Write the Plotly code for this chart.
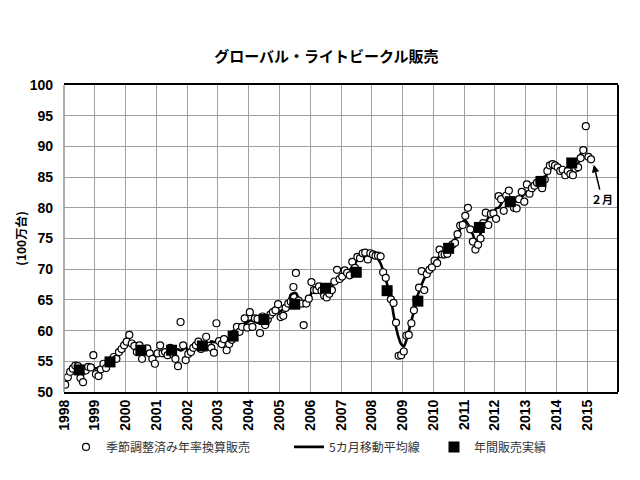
import pandas as pd
import plotly.graph_objects as go

# ---- data (100万台) ----
sa_1998 = [51.2, 52.4, 53.3, 53.8, 54.3, 54.2, 52.3, 51.6, 53.5, 54.1, 54.0, 56.0]
sa_1999 = [52.9, 52.6, 53.7, 54.6, 53.9, 54.8, 55.2, 55.7, 55.4, 56.5, 57.0, 57.6]
sa_2000 = [58.2, 59.3, 57.9, 57.5, 56.5, 57.6, 55.4, 56.8, 57.1, 56.3, 55.4, 54.6]
sa_2001 = [56.3, 57.6, 56.3, 56.5, 56.0, 57.2, 56.2, 55.4, 54.2, 61.4, 57.6, 55.2]
sa_2002 = [56.2, 56.5, 57.2, 57.6, 58.2, 57.0, 57.6, 59.0, 57.5, 57.2, 56.4, 61.2]
sa_2003 = [58.3, 57.8, 58.6, 56.8, 57.8, 58.5, 59.5, 60.6, 59.8, 60.6, 62.0, 60.5]
sa_2004 = [63.0, 60.6, 62.0, 61.9, 59.6, 62.3, 60.9, 61.8, 62.6, 63.0, 63.3, 64.3]
sa_2005 = [62.2, 62.4, 63.7, 64.4, 64.7, 67.1, 69.4, 64.9, 64.4, 60.9, 64.4, 65.2]
sa_2006 = [67.9, 66.6, 66.6, 67.2, 66.5, 65.7, 65.4, 66.0, 66.6, 68.0, 69.9, 68.4]
sa_2007 = [68.8, 69.8, 69.4, 69.0, 71.2, 70.2, 72.0, 71.8, 72.6, 72.7, 71.6, 72.6]
sa_2008 = [72.4, 72.2, 72.2, 72.1, 69.5, 68.6, 66.5, 65.1, 64.5, 61.3, 55.9, 56.0]
sa_2009 = [56.6, 59.2, 59.3, 61.2, 63.3, 65.0, 67.0, 69.7, 66.6, 69.2, 69.9, 70.3]
sa_2010 = [71.4, 71.0, 73.2, 72.4, 72.4, 72.5, 73.5, 74.0, 74.3, 75.7, 77.1, 77.2]
sa_2011 = [78.7, 80.0, 76.5, 74.5, 73.2, 74.0, 75.0, 77.5, 79.2, 77.2, 79.0, 79.1]
sa_2012 = [78.2, 81.9, 81.4, 79.5, 82.0, 82.8, 81.2, 80.0, 79.9, 81.4, 82.6, 81.0]
sa_2013 = [83.8, 82.3, 83.2, 83.6, 84.1, 84.3, 83.2, 84.6, 86.0, 86.9, 87.1, 86.9]
sa_2014 = [86.6, 86.0, 86.2, 85.3, 86.0, 85.5, 85.3, 86.4, 86.6, 88.1, 89.4, 93.3]
sa_2015 = [88.3, 87.9]

annual_years = list(range(1998, 2015))
annual_sales = [53.6, 54.9, 56.8, 56.8, 57.5, 59.1, 61.8, 64.3, 66.9, 69.5,
                66.5, 64.8, 73.4, 76.8, 81.0, 84.3, 87.3]

tick_years = list(range(1998, 2016))

monthly = (sa_1998 + sa_1999 + sa_2000 + sa_2001 + sa_2002 + sa_2003 + sa_2004 +
           sa_2005 + sa_2006 + sa_2007 + sa_2008 + sa_2009 + sa_2010 + sa_2011 +
           sa_2012 + sa_2013 + sa_2014 + sa_2015)
dates = pd.date_range("1998-01-01", periods=len(monthly), freq="MS") + pd.Timedelta(days=14)
s = pd.Series(monthly, index=dates)
ma5 = s.rolling(5, center=True).mean()
annual_dates = [pd.Timestamp(f"{y}-07-01") for y in annual_years]

FONT = "Liberation Sans, Arial, Noto Sans CJK JP"
JFONT = "Noto Sans CJK JP, Liberation Sans"

fig = go.Figure()
fig.add_trace(go.Scatter(
    x=ma5.index, y=ma5.values, mode="lines", name="5カ月移動平均線",
    line=dict(color="black", width=2.6, shape="spline", smoothing=0.6),
    legend="legend2"))
fig.add_trace(go.Scatter(
    x=dates, y=monthly, mode="markers", name="季節調整済み年率換算販売",
    marker=dict(symbol="circle", size=7, color="white",
                line=dict(color="black", width=1.2)),
    legend="legend"))
fig.add_trace(go.Scatter(
    x=annual_dates, y=annual_sales, mode="markers", name="年間販売実績",
    marker=dict(symbol="square", size=11, color="black"),
    legend="legend3"))

leg_common = dict(orientation="h", yref="container", y=0.069, yanchor="middle",
                  xref="container", xanchor="left", bgcolor="rgba(0,0,0,0)",
                  font=dict(family=JFONT, size=12, color="#333333"))
fig.update_layout(
    width=640, height=480,
    margin=dict(l=64, r=22, t=85, b=88, autoexpand=False),
    paper_bgcolor="white", plot_bgcolor="white",
    title=dict(text="グローバル・ライトビークル販売", x=0.51, xanchor="center",
               y=1 - 57 / 480, yanchor="middle",
               font=dict(family=JFONT, size=15, color="black", weight="bold")),
    legend=dict(x=66 / 640, **leg_common),
    legend2=dict(x=289 / 640, **leg_common),
    legend3=dict(x=434 / 640, **leg_common),
    xaxis=dict(
        type="date",
        range=["1998-01-01", "2016-01-01"],
        tickvals=[pd.Timestamp(f"{y}-01-01") for y in tick_years],
        ticktext=[str(y) for y in tick_years],
        tickangle=-90,
        tickfont=dict(family=FONT, size=14, color="black", weight="bold"),
        showgrid=True, gridcolor="#a0a0a0", gridwidth=1,
        showline=True, linecolor="black", linewidth=2, mirror=True,
        ticks="", zeroline=False, automargin=False,
    ),
    yaxis=dict(
        range=[50, 100], dtick=5, tick0=50,
        tickfont=dict(family=FONT, size=14, color="black", weight="bold"),
        showgrid=True, gridcolor="#a0a0a0", gridwidth=1,
        showline=False, ticks="", ticklabelstandoff=10, zeroline=False,
        automargin=False,
        title=dict(text="(100万台)", standoff=0,
                   font=dict(family=JFONT, size=12, color="black", weight="bold")),
    ),
    showlegend=True,
)
# right border in black, left border stays grid grey
fig.add_shape(type="line", xref="paper", yref="paper", x0=1, x1=1, y0=0, y1=1,
              line=dict(color="black", width=2))
fig.add_shape(type="line", xref="paper", yref="paper", x0=0, x1=0, y0=0, y1=1,
              line=dict(color="#909090", width=1.5))

fig.add_annotation(
    x=pd.Timestamp("2015-03-20"), y=87.0, xref="x", yref="y",
    ax=pd.Timestamp("2015-06-25"), ay=81.4, axref="x", ayref="y",
    text="２月", showarrow=True, arrowhead=2, arrowsize=1, arrowwidth=1.5,
    arrowcolor="black", standoff=0,
    font=dict(family=JFONT, size=11, color="black", weight="bold"))

fig.write_html("out.html")
